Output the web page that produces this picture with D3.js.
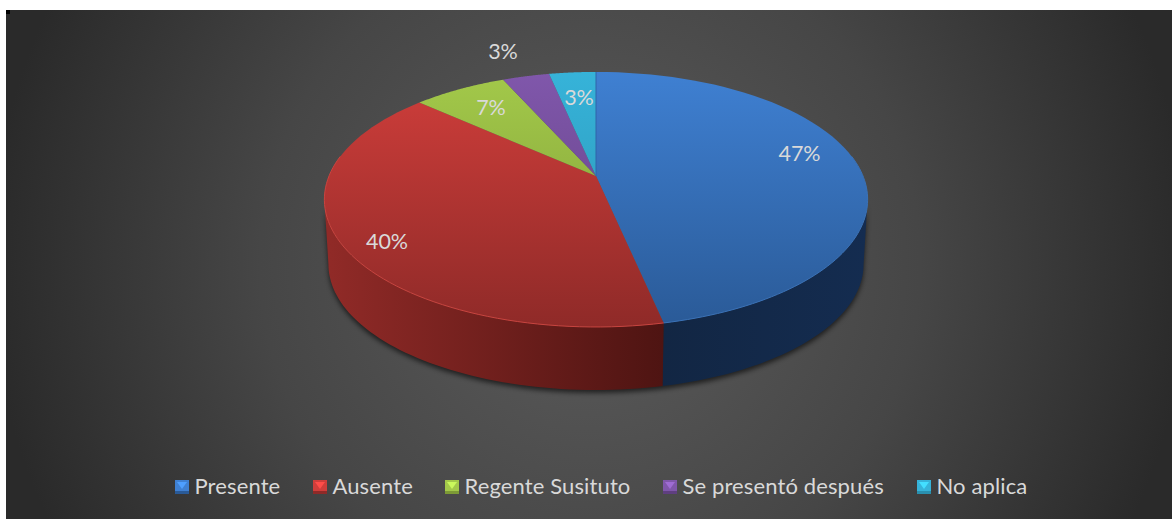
<!DOCTYPE html>
<html><head><meta charset="utf-8">
<script src="https://cdn.jsdelivr.net/npm/d3@7"></script>
<style>html,body{margin:0;padding:0;background:#fff}svg{display:block}text{font-family:Lato,sans-serif}</style>
</head><body><div id="c"></div>
<script>
const categories=["Presente","Ausente","Regente Susituto","Se presentó después","No aplica"];
const shares=[46.67,40,6.67,3.33,3.33];
const labels=["47%","40%","7%","3%","3%"];
const topLight=["#3f80d2","#d03e3b","#a3c94a","#8057ab","#36b3d9"];
const topDark=["#2a5a97","#8f2a28","#7d9a36","#5f3f80","#2a90af"];
const rimColor=["#3a72b8","#c9443f","#a3c94a","#8057ab","#36b3d9"];
const wallLight=["#142c50","#902a27","#6a8230","#4f3570","#1f7a94"];
const wallDark=["#122643","#4e1412","#55692a","#3f2a5a","#1a6278"];
const W=1172,H=519;
const svg=d3.select("#c").append("svg").attr("width",W).attr("height",H);
const defs=svg.append("defs");
const bg=defs.append("radialGradient").attr("id","bg").attr("gradientUnits","userSpaceOnUse")
 .attr("cx",590).attr("cy",264).attr("r",600);
bg.append("stop").attr("offset",0).attr("stop-color","#5c5c5c");
bg.append("stop").attr("offset",.55).attr("stop-color","#464646");
bg.append("stop").attr("offset",1).attr("stop-color","#2a2a2a");
svg.append("rect").attr("x",6).attr("y",10).attr("width",W-6).attr("height",H-10).attr("fill","url(#bg)");
svg.append("rect").attr("x",6).attr("y",10).attr("width",4).attr("height",4).attr("fill","#000");
const blur=defs.append("filter").attr("id","sh").attr("x","-10%").attr("y","-10%").attr("width","120%").attr("height","120%");
blur.append("feGaussianBlur").attr("stdDeviation",2.5);

// perspective projection of the unit disk
const cx=596,apexY=176,A=267,B=123.2,k=0.184,depth=65.3,baseScale=.985;
function proj(a,base=false){
  const X=Math.sin(a),Y=-Math.cos(a),w=1-k*Y,s=base?baseScale:1;
  return [cx+s*A*X/w,apexY+(base?depth:0)+s*B*Y/w];
}
const pie=d3.pie().sort(null).value(d=>d).startAngle(0).endAngle(2*Math.PI);
const arcs=pie(shares);
const line=d3.line();
const sample=(a0,a1,fn)=>d3.range(0,61).map(i=>fn(a0+(a1-a0)*i/60));
// silhouette angles: widest points of the projected circle
const silR=Math.PI-Math.acos(k),silL=Math.PI+Math.acos(k);

// ground shadow
const shadowTop=sample(silR,silL,a=>proj(a,true)).map(p=>[p[0],p[1]+3]);
svg.append("path").attr("d",line(shadowTop.concat(sample(silL,silR,a=>proj(a))))+"Z")
 .attr("fill","#000").attr("opacity",.6).attr("filter","url(#sh)");

// walls (visible front part only)
arcs.forEach((d,i)=>{
  const a0=Math.max(d.startAngle,silR),a1=Math.min(d.endAngle,silL);
  if(a1<=a0)return;
  const g=defs.append("linearGradient").attr("id","w"+i).attr("gradientUnits","userSpaceOnUse")
    .attr("x1",i==1?330:660).attr("x2",i==1?664:868).attr("y1",0).attr("y2",0);
  g.append("stop").attr("offset",0).attr("stop-color",i==1?wallLight[i]:wallDark[i]);
  g.append("stop").attr("offset",1).attr("stop-color",i==1?wallDark[i]:wallLight[i]);
  const t=sample(a0,a1,a=>proj(a)),b=sample(a1,a0,a=>proj(a,true));
  svg.append("path").attr("d",line(t.concat(b))+"Z").attr("fill",`url(#w${i})`);
});

// top faces
arcs.forEach((d,i)=>{
  const g=defs.append("linearGradient").attr("id","t"+i).attr("gradientUnits","userSpaceOnUse")
   .attr("x1",0).attr("x2",0).attr("y1",72).attr("y2",327);
  g.append("stop").attr("offset",0).attr("stop-color",topLight[i]);
  g.append("stop").attr("offset",1).attr("stop-color",topDark[i]);
  const pts=[[cx,apexY]].concat(sample(d.startAngle,d.endAngle,a=>proj(a)));
  svg.append("path").attr("d",line(pts)+"Z").attr("fill",`url(#t${i})`);
});
// seam between first and last slice, and the soft rim
svg.append("path").attr("d",line([[cx,apexY],proj(0)])).attr("stroke","#2f64a8").attr("stroke-width",1).attr("fill","none");
arcs.forEach((d,i)=>{
  const a0=Math.max(d.startAngle,silR-.35),a1=Math.min(d.endAngle,silL+.35);
  if(a1<=a0)return;
  svg.append("path").attr("d",line(sample(a0,a1,a=>proj(a)))).attr("fill","none")
   .attr("stroke",rimColor[i]).attr("stroke-width",1);
});

// data labels
const labelPos=[[799.5,153],[387,241],[491,107],[503,51],[579,97]];
svg.selectAll("text.l").data(labels).join("text").attr("class","l")
 .attr("x",(d,i)=>labelPos[i][0]).attr("y",(d,i)=>labelPos[i][1]).attr("dy",".35em")
 .attr("text-anchor","middle").attr("font-size",21.5).attr("fill","#d9d9d9").text(d=>d);

// legend
const legX=[175,313,445,663,917];
const lg=svg.selectAll("g.k").data(categories).join("g").attr("class","k")
 .attr("transform",(d,i)=>`translate(${legX[i]},480)`);
lg.append("rect").attr("width",14).attr("height",14).attr("fill",(d,i)=>topDark[i]);
lg.append("path").attr("d","M0,0H14V11H0Z").attr("fill",(d,i)=>topLight[i]);
lg.append("path").attr("d","M2,2H12L7,9Z").attr("fill",(d,i)=>d3.color(topLight[i]).brighter(.6));
lg.append("text").attr("x",19.5).attr("y",6).attr("dy",".35em").attr("font-size",22)
 .attr("letter-spacing",.12).attr("fill","#d9d9d9").text(d=>d);
</script></body></html>
